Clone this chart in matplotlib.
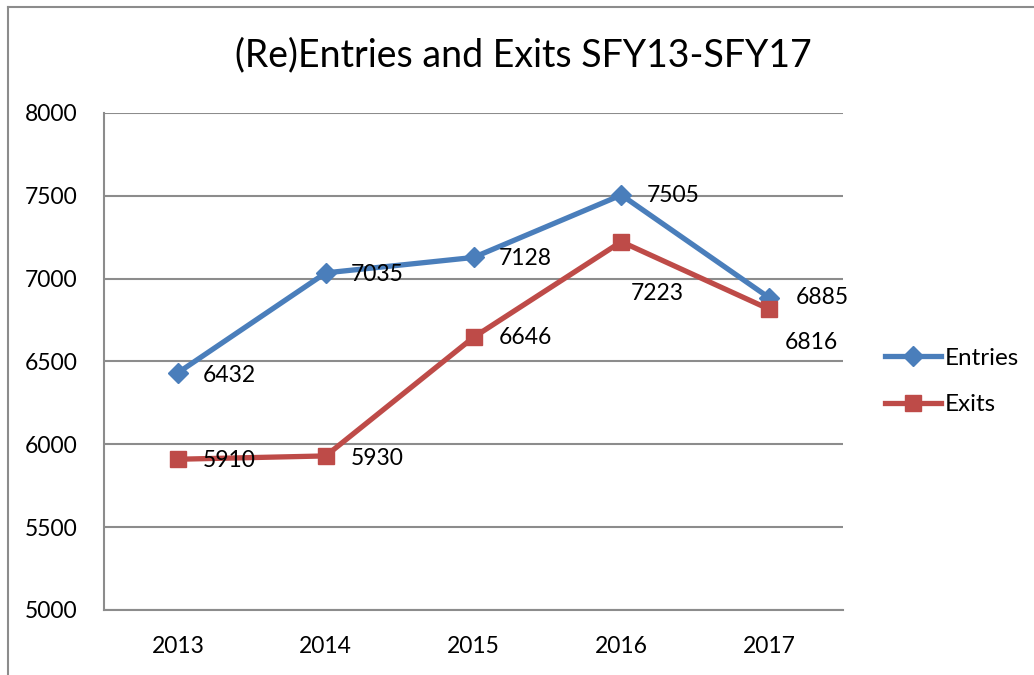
import matplotlib.pyplot as plt
from matplotlib.lines import Line2D

years = ['2013', '2014', '2015', '2016', '2017']
entries = [6432, 7035, 7128, 7505, 6885]
exits = [5910, 5930, 6646, 7223, 6816]

# label offsets in points (dx, dy) per data point
entries_off = [(18, -2), (18, -1), (18, -1), (18, 0), (19, 0)]
exits_off = [(18, -1), (18, -2), (18, 0), (7, -37), (11, -24)]

plt.rcParams['font.family'] = ['Lato', 'DejaVu Sans']

blue = '#4A7EBB'
red = '#BE4B48'
grey = '#8C8C8C'

fig = plt.figure(figsize=(10.34, 6.75), dpi=100)
ax = fig.add_axes([0.1006, 0.0963, 0.7147, 0.7363])

x = range(len(years))
ax.plot(x, entries, color=blue, linewidth=3.8, marker='D', markersize=10,
        label='Entries', zorder=3)
ax.plot(x, exits, color=red, linewidth=3.8, marker='s', markersize=12,
        label='Exits', zorder=3)

for i, v in enumerate(entries):
    ax.annotate(str(v), (i, v), xytext=entries_off[i], textcoords='offset points',
                ha='left', va='center', fontsize=16.5, zorder=4)
for i, v in enumerate(exits):
    ax.annotate(str(v), (i, v), xytext=exits_off[i], textcoords='offset points',
                ha='left', va='center', fontsize=16.5, zorder=4)

ax.set_xlim(-0.5, 4.5)
ax.set_ylim(5000, 8000)
ax.set_yticks(range(5000, 8001, 500))
ax.set_xticks(list(x))
ax.set_xticklabels(years)
ax.tick_params(length=0, labelsize=16.5)
ax.tick_params(axis='y', pad=19)
ax.tick_params(axis='x', pad=19)
ax.grid(axis='y', color=grey, linewidth=1.5)
ax.set_axisbelow(True)
for s in ['top', 'right']:
    ax.spines[s].set_visible(False)
for s in ['left', 'bottom']:
    ax.spines[s].set_color(grey)
    ax.spines[s].set_linewidth(1.5)

fig.text(0.506, 0.918, '(Re)Entries and Exits SFY13-SFY17', ha='center',
         va='center', fontsize=27)

fig.legend(loc='center left', bbox_to_anchor=(0.835, 0.435), frameon=False,
           fontsize=17.5, handlelength=2.3, handletextpad=0.15, labelspacing=1.05)

# chart area border (partly cropped)
fig.add_artist(Line2D([8/1034, 8/1034], [0, 1 - 7/675], transform=fig.transFigure,
                      color=grey, linewidth=1.5))
fig.add_artist(Line2D([8/1034, 1], [1 - 7/675, 1 - 7/675], transform=fig.transFigure,
                      color=grey, linewidth=1.5))

fig.savefig('out.png', dpi=100)
